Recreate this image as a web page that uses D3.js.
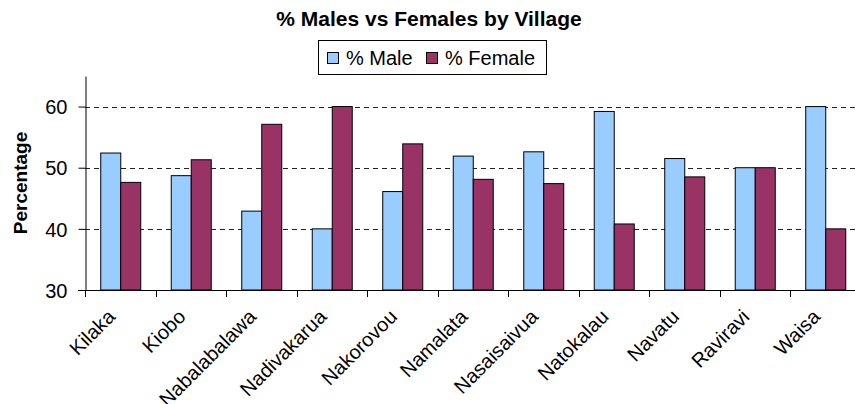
<!DOCTYPE html>
<html>
<head>
<meta charset="utf-8">
<script src="https://cdn.jsdelivr.net/npm/d3@7"></script>
<style>
  body { margin: 0; background: #fff; }
  text { font-family: Arial, "Liberation Sans", sans-serif; fill: #000; }
</style>
</head>
<body>
<svg id="chart" width="855" height="404"></svg>
<script>
// villages and the two series
let villages = ["Kilaka", "Kiobo", "Nabalabalawa", "Nadivakarua", "Nakorovou", "Namalata",
    "Nasaisaivua", "Natokalau", "Navatu", "Raviravi", "Waisa"];
let malePct = [52.4, 48.7, 42.9, 40.0, 46.1, 51.9, 52.6, 59.2, 51.5, 50.0, 60.0];
let femalePct = [47.6, 51.3, 57.1, 60.0, 53.9, 48.1, 47.4, 40.8, 48.5, 50.0, 40.0];
let seriesNames = ["% Male", "% Female"];
let seriesColors = ["#99ccff", "#993366"];
let yTicks = [30, 40, 50, 60];

let svg = d3.select("#chart");

let plotLeft = 85, plotRight = 860.5, plotTop = 76, plotBottom = 290;

let x0 = d3.scaleBand()
    .domain(villages)
    .range([plotLeft, plotRight])
    .paddingInner(0.4326)
    .paddingOuter(0.2163);

let x1 = d3.scaleBand()
    .domain(seriesNames)
    .range([0, x0.bandwidth()]);

let y = d3.scaleLinear()
    .domain([30, 65])
    .range([plotBottom, plotTop]);

// dashed gridlines
svg.append("g")
    .selectAll("line")
    .data(yTicks.filter(d => d > 30))
    .enter().append("line")
    .attr("x1", plotLeft)
    .attr("x2", 855)
    .attr("y1", d => Math.round(y(d)) + 0.5)
    .attr("y2", d => Math.round(y(d)) + 0.5)
    .attr("stroke", "#222")
    .attr("stroke-dasharray", "5,4");

// bars
let rows = villages.map((v, i) => ({ village: v, values: [malePct[i], femalePct[i]] }));

let groups = svg.append("g")
    .selectAll("g")
    .data(rows)
    .enter().append("g")
    .attr("transform", d => "translate(" + x0(d.village) + ",0)");

groups.selectAll("rect")
    .data(d => d.values.map((v, i) => ({ name: seriesNames[i], value: v, color: seriesColors[i] })))
    .enter().append("rect")
    .attr("x", d => x1(d.name) + 0.5)
    .attr("y", d => y(d.value))
    .attr("width", x1.bandwidth())
    .attr("height", d => plotBottom - y(d.value))
    .attr("fill", d => d.color)
    .attr("stroke", "#000")
    .attr("stroke-width", 1);

// y axis
let yAxis = svg.append("g")
    .attr("transform", "translate(" + (plotLeft + 0.5) + ",0)")
    .call(d3.axisLeft(y).tickValues(yTicks).tickSize(7).tickSizeOuter(0).tickPadding(11));
yAxis.select(".domain").attr("stroke", "#000");
yAxis.selectAll(".tick line").attr("stroke", "#000");
yAxis.selectAll(".tick text")
    .style("font-size", "20px")
    .style("font-family", "Arial, 'Liberation Sans', sans-serif")
    .attr("dy", "0.36em");

// x axis line and ticks at category boundaries
svg.append("line")
    .attr("x1", plotLeft - 7)
    .attr("x2", 855)
    .attr("y1", plotBottom + 0.5)
    .attr("y2", plotBottom + 0.5)
    .attr("stroke", "#000");

let boundaries = villages.map(v => x0(v) - x0.step() * x0.paddingInner() / 2);
svg.append("g")
    .selectAll("line")
    .data(boundaries)
    .enter().append("line")
    .attr("x1", d => Math.round(d) + 0.5)
    .attr("x2", d => Math.round(d) + 0.5)
    .attr("y1", plotBottom)
    .attr("y2", plotBottom + 7)
    .attr("stroke", "#000");

// rotated category labels
svg.append("g")
    .selectAll("text")
    .data(villages)
    .enter().append("text")
    .attr("transform", d => "translate(" + (x0(d) + x0.bandwidth() / 2 - 4) + "," + (plotBottom + 28) + ") rotate(-45)")
    .attr("text-anchor", "end")
    .style("font-size", "20px")
    .text(d => d);

// title
svg.append("text")
    .attr("x", 429)
    .attr("y", 26)
    .attr("text-anchor", "middle")
    .style("font-size", "21px")
    .style("font-weight", "bold")
    .text("% Males vs Females by Village");

// y axis title
svg.append("text")
    .attr("transform", "translate(27,183) rotate(-90)")
    .attr("text-anchor", "middle")
    .style("font-size", "19px")
    .style("font-weight", "bold")
    .text("Percentage");

// legend
let legend = svg.append("g");
legend.append("rect")
    .attr("x", 318.5)
    .attr("y", 40.5)
    .attr("width", 228)
    .attr("height", 34)
    .attr("fill", "#fff")
    .attr("stroke", "#000");

let legendX = [327, 426];
seriesNames.forEach((name, i) => {
    legend.append("rect")
        .attr("x", legendX[i] + 0.5)
        .attr("y", 52.5)
        .attr("width", 11)
        .attr("height", 11)
        .attr("fill", seriesColors[i])
        .attr("stroke", "#000");
    legend.append("text")
        .attr("x", legendX[i] + 19)
        .attr("y", 65)
        .style("font-size", "20px")
        .text(name);
});
</script>
</body>
</html>
